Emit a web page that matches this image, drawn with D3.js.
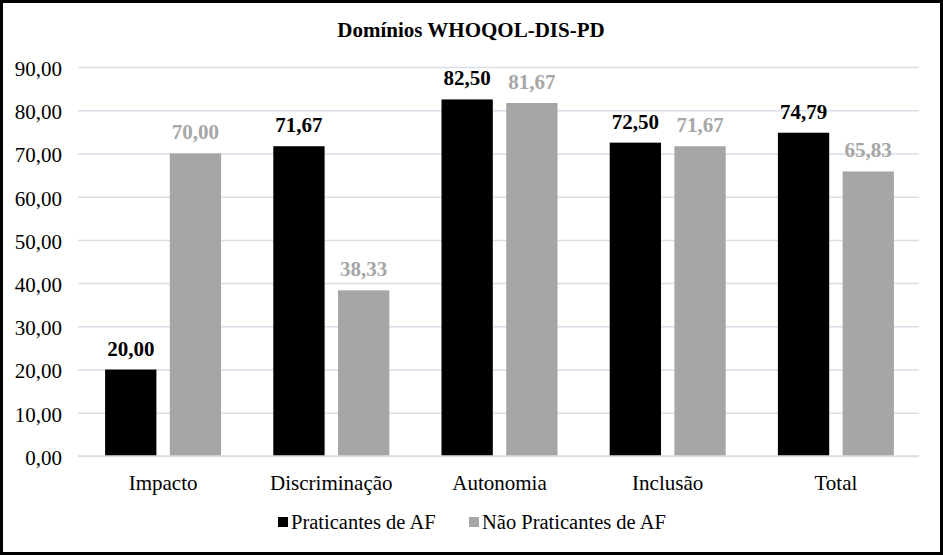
<!DOCTYPE html>
<html><head><meta charset="utf-8">
<script src="https://cdn.jsdelivr.net/npm/d3@7"></script>
</head><body style="margin:0">
<script>
const categories = ["Impacto","Discriminação","Autonomia","Inclusão","Total"];
const seriesNames = ["Praticantes de AF","Não Praticantes de AF"];
const praticantes = [20.00,71.67,82.50,72.50,74.79];
const naoPraticantes = [70.00,38.33,81.67,71.67,65.83];
const yTicks = [0,10,20,30,40,50,60,70,80,90];
const colors = ["#000000","#a6a6a6"];
const title = "Domínios WHOQOL-DIS-PD";

const FF='"Liberation Serif"';
const W=943,H=555;
const svg=d3.select("body").append("svg").attr("width",W).attr("height",H).style("display","block").style("font-family",FF);
svg.append("rect").attr("x",1.5).attr("y",1.5).attr("width",W-3).attr("height",H-3).attr("fill","#fff").attr("stroke","#000").attr("stroke-width",3);
const x0=d3.scaleBand().domain(categories).range([79,920]);
const y=d3.scaleLinear().domain([0,90]).range([456,67]);
const x1=d3.scaleBand().domain([0,1]).range([0,116]).paddingInner(12/58);

svg.append("text").attr("x",471).attr("y",37).attr("text-anchor","middle").style("font-family",FF).attr("font-weight","bold").attr("font-size",21).text(title);

const yAxis=svg.append("g").attr("transform","translate(78,0)").call(d3.axisLeft(y).tickValues(yTicks).tickSize(-841).tickFormat(d=>d3.format(".2f")(d).replace(".",",")));
yAxis.attr("font-family",null).attr("font-size",null);
yAxis.select(".domain").remove();
yAxis.selectAll(".tick line").attr("stroke","#d9dee8").attr("stroke-width",1.5);
yAxis.selectAll(".tick text").style("font-family",FF).attr("font-size",21).attr("fill","#000").attr("x",-16).attr("dy","0.4em");

const data=[praticantes,naoPraticantes];
const g=svg.append("g");
categories.forEach((c,i)=>{
  const gx=x0(c)+x0.bandwidth()/2-58;
  data.forEach((s,j)=>{
    g.append("rect").attr("x",gx+x1(j)).attr("y",y(s[i])).attr("width",x1.bandwidth()).attr("height",y(0)-y(s[i])).attr("fill",colors[j]);
    g.append("text").attr("x",gx+x1(j)+x1.bandwidth()/2).attr("y",y(s[i])-14).attr("text-anchor","middle")
      .style("font-family",FF).attr("font-weight","bold").attr("font-size",21).attr("fill",j===0?"#000":"#a6a6a6")
      .text(d3.format(".2f")(s[i]).replace(".",","));
  });
});
svg.append("line").attr("x1",78).attr("x2",919).attr("y1",y(0)).attr("y2",y(0)).attr("stroke","#d9dee8").attr("stroke-width",1.5);

const xAxis=svg.append("g").attr("transform",`translate(0,${y(0)})`).call(d3.axisBottom(x0).tickSize(0));
xAxis.attr("font-family",null).attr("font-size",null);
xAxis.select(".domain").remove();
xAxis.selectAll(".tick text").style("font-family",FF).attr("font-size",21).attr("fill","#000").attr("dy","0").attr("y",34);

const leg=svg.append("g");
const lx=[278,469];
seriesNames.forEach((n,j)=>{
  leg.append("rect").attr("x",lx[j]).attr("y",517).attr("width",10).attr("height",10).attr("fill",colors[j]);
  leg.append("text").attr("x",lx[j]+13).attr("y",529).style("font-family",FF).attr("font-size",20.5).attr("fill","#000").text(n);
});
</script>
</body></html>
